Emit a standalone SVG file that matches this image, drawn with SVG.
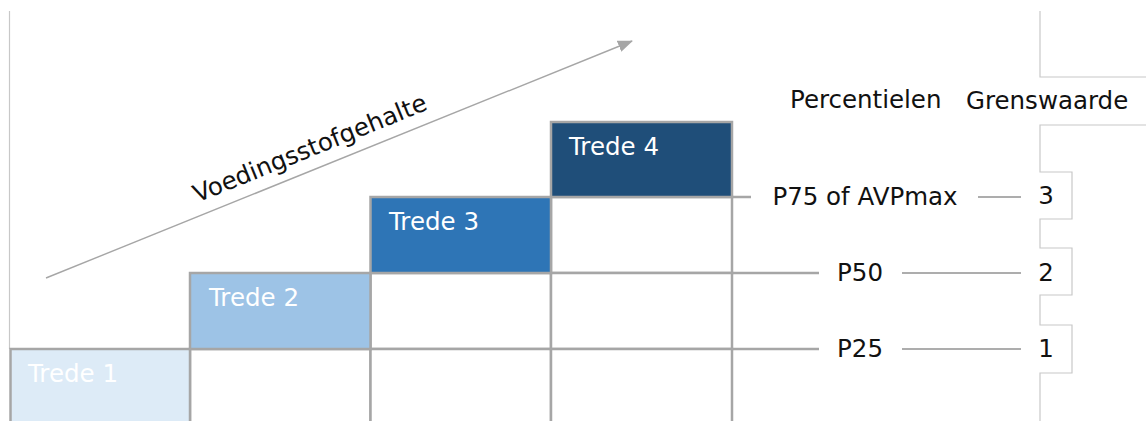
<svg xmlns="http://www.w3.org/2000/svg" width="1146" height="421" viewBox="0 0 1146 421">
<style>
  .lbl{font-family:"DejaVu Sans",Verdana,sans-serif;font-size:24.5px;fill:#111}
  .tl{font-family:"DejaVu Sans",Verdana,sans-serif;font-size:24.5px;fill:#fff}
  .cell{fill:#fff;stroke:#A6A6A6;stroke-width:2.5}
  .step{stroke:#A6A6A6;stroke-width:2.5}
  .conn{stroke:#ADADAD;stroke-width:2;fill:none}
  .thin{stroke:#C8C8C8;stroke-width:1.2;fill:none}
</style>
<defs>
  <marker id="ah" markerWidth="15" markerHeight="12" refX="14" refY="6" orient="auto" markerUnits="userSpaceOnUse" viewBox="0 0 15 12">
    <path d="M0,0 L15,6 L0,12 Z" fill="#A6A6A6"/>
  </marker>
</defs>
<rect width="1146" height="421" fill="#fff"/>
<g id="frame">
  <line class="thin" x1="9.5" y1="11" x2="9.5" y2="349"/>
  <path class="thin" d="M1040,11 V77 H1146"/>
  <path class="thin" d="M1146,125 H1040 V172 H1072 V219 H1040 V248 H1072 V295 H1040 V325 H1072 V373 H1040 V421"/>
</g>
<g id="cells">
  <rect class="cell" x="190" y="349" width="180.5" height="90"/>
  <rect class="cell" x="370.5" y="273" width="180.5" height="76"/>
  <rect class="cell" x="370.5" y="349" width="180.5" height="90"/>
  <rect class="cell" x="551" y="197" width="181" height="76"/>
  <rect class="cell" x="551" y="273" width="181" height="76"/>
  <rect class="cell" x="551" y="349" width="181" height="90"/>
</g>
<g id="trede1">
  <rect class="step" x="10.5" y="349" width="179.5" height="90" fill="#DDEBF7"/>
  <text class="tl" x="28" y="382" fill="#F4F8FC">Trede 1</text>
</g>
<g id="trede2">
  <rect class="step" x="190" y="273" width="180.5" height="76" fill="#9DC3E6"/>
  <text class="tl" x="209" y="306">Trede 2</text>
</g>
<g id="trede3">
  <rect class="step" x="370.5" y="197" width="180.5" height="76" fill="#2E75B6"/>
  <text class="tl" x="389" y="230">Trede 3</text>
</g>
<g id="trede4">
  <rect class="step" x="551" y="122" width="181" height="75" fill="#1F4E79"/>
  <text class="tl" x="569" y="155">Trede 4</text>
</g>
<g id="connectors">
  <line class="step" x1="732" y1="197" x2="751" y2="197"/>
  <line class="step" x1="732" y1="273" x2="819" y2="273"/>
  <line class="step" x1="732" y1="349" x2="819" y2="349"/>
  <line class="conn" x1="978" y1="197" x2="1021" y2="197"/>
  <line class="conn" x1="902" y1="273" x2="1021" y2="273"/>
  <line class="conn" x1="902" y1="349" x2="1021" y2="349"/>
  <line x1="46" y1="278" x2="632" y2="41" stroke="#A6A6A6" stroke-width="1.4" marker-end="url(#ah)"/>
</g>
<g id="axis-label">
  <text class="lbl" x="313" y="156" text-anchor="middle" transform="rotate(-22 313 156)">Voedingsstofgehalte</text>
</g>
<g id="headers">
  <text class="lbl" x="790" y="108">Percentielen</text>
  <text class="lbl" x="966" y="109">Grenswaarde</text>
</g>
<g id="percentiles">
  <text class="lbl" x="865" y="205" text-anchor="middle">P75 of AVPmax</text>
  <text class="lbl" x="860" y="281" text-anchor="middle">P50</text>
  <text class="lbl" x="860" y="357" text-anchor="middle">P25</text>
</g>
<g id="limits">
  <text class="lbl" x="1046" y="204" text-anchor="middle">3</text>
  <text class="lbl" x="1046" y="281" text-anchor="middle">2</text>
  <text class="lbl" x="1046" y="357" text-anchor="middle">1</text>
</g>
</svg>
